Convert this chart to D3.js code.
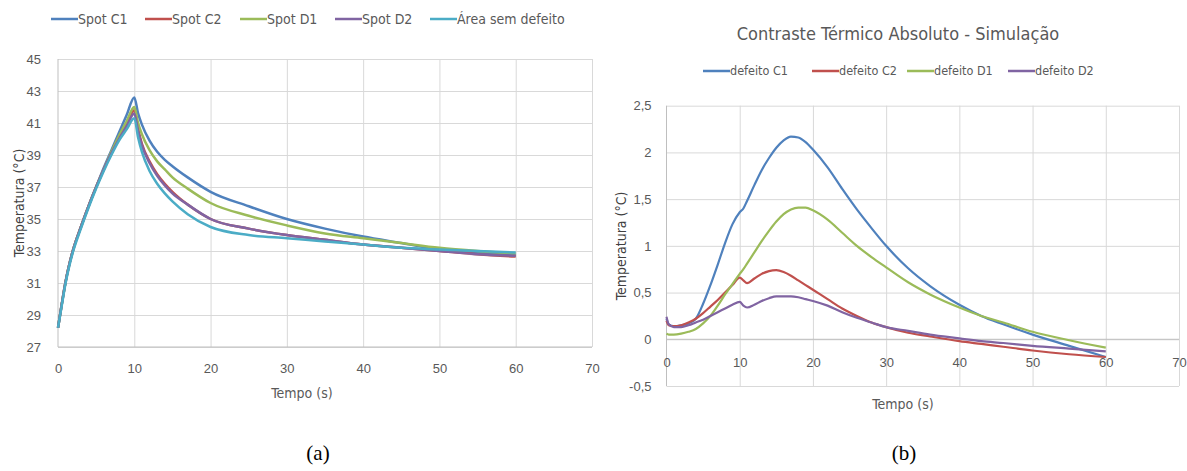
<!DOCTYPE html>
<html>
<head>
<meta charset="utf-8">
<script src="https://cdn.jsdelivr.net/npm/d3@7"></script>
<style>
  body { margin: 0; background: #fff; }
  svg { display: block; font-family: "Liberation Sans Narrow", "DejaVu Sans Condensed", sans-serif; }
  .grid line { stroke: #d9d9d9; stroke-width: 1; }
  .grid path { display: none; }
  .tick text { fill: #595959; font-size: 13px; }
  .axisTitle { fill: #595959; font-size: 14px; }
  .legend text { fill: #595959; font-size: 14px; }
  .legendB text { font-size: 12.5px; }
  .caption { font-family: "Liberation Serif", "DejaVu Serif", serif; font-size: 21px; fill: #000; }
</style>
</head>
<body>
<svg id="chart" width="1187" height="471"></svg>
<script>
// ---------------------------------------------------------------
// (a) temperaturas
const timeA = [0, 0.5, 1, 1.5, 2, 3, 4, 5, 6, 7, 8, 9, 10, 10.5, 11, 12, 13, 14, 15, 17, 20, 25, 30, 35, 40, 45, 50, 55, 60];

const spotC1 = [28.2, 29.7, 31.1, 32.2, 33.1, 34.5, 35.8, 37.0, 38.2, 39.3, 40.4, 41.5, 42.6, 41.6, 40.9, 39.9, 39.2, 38.7, 38.3, 37.6, 36.7, 35.8, 35.0, 34.4, 33.9, 33.5, 33.1, 32.9, 32.75];
const spotC2 = [28.2, 29.7, 31.1, 32.2, 33.1, 34.5, 35.8, 37.0, 38.1, 39.1, 40.1, 40.9, 41.8, 40.6, 39.7, 38.6, 37.8, 37.2, 36.7, 35.9, 35.0, 34.4, 34.0, 33.7, 33.4, 33.2, 33.0, 32.8, 32.65];
const spotD1 = [28.2, 29.7, 31.1, 32.2, 33.1, 34.5, 35.8, 37.0, 38.1, 39.2, 40.2, 41.1, 42.0, 41.0, 40.3, 39.3, 38.6, 38.1, 37.6, 36.9, 36.0, 35.2, 34.6, 34.1, 33.8, 33.5, 33.2, 33.0, 32.85];
const spotD2 = [28.2, 29.7, 31.1, 32.2, 33.1, 34.5, 35.8, 37.0, 38.1, 39.1, 40.0, 40.8, 41.6, 40.5, 39.6, 38.5, 37.7, 37.1, 36.6, 35.9, 35.0, 34.4, 34.0, 33.7, 33.4, 33.2, 33.0, 32.8, 32.7];
const semDefeito = [28.2, 29.6, 31.0, 32.1, 33.0, 34.4, 35.7, 36.9, 38.0, 39.0, 39.9, 40.6, 41.3, 40.1, 39.2, 38.0, 37.2, 36.6, 36.1, 35.3, 34.5, 34.0, 33.8, 33.6, 33.4, 33.2, 33.1, 33.0, 32.9];

const namesA = ["Spot C1", "Spot C2", "Spot D1", "Spot D2", "Área sem defeito"];
const seriesA = [spotC1, spotC2, spotD1, spotD2, semDefeito];
const colorsA = ["#4f81bd", "#c0504d", "#9bbb59", "#8064a2", "#4bacc6"];
const yTicksA = [27, 29, 31, 33, 35, 37, 39, 41, 43, 45];
const xTicks = [0, 10, 20, 30, 40, 50, 60, 70];

// ---------------------------------------------------------------
// (b) contraste termico
const timeB = [0, 0.3, 1, 2, 3, 4, 5, 6, 7, 8, 9, 10, 10.5, 11, 12, 13, 14, 15, 16, 17, 18, 19, 20, 22, 24, 26, 28, 30, 33, 36, 40, 43, 46, 50, 55, 60];

const defeitoC1 = [0.22, 0.16, 0.14, 0.15, 0.17, 0.22, 0.38, 0.58, 0.80, 1.03, 1.23, 1.36, 1.40, 1.48, 1.65, 1.81, 1.94, 2.05, 2.13, 2.17, 2.16, 2.11, 2.03, 1.84, 1.61, 1.39, 1.19, 1.00, 0.76, 0.57, 0.37, 0.25, 0.16, 0.05, -0.07, -0.19];
const defeitoC2 = [0.20, 0.15, 0.14, 0.15, 0.18, 0.22, 0.28, 0.35, 0.42, 0.50, 0.58, 0.66, 0.63, 0.60, 0.65, 0.70, 0.73, 0.74, 0.72, 0.68, 0.63, 0.58, 0.53, 0.43, 0.33, 0.25, 0.18, 0.13, 0.07, 0.03, -0.02, -0.05, -0.08, -0.12, -0.16, -0.19];
const defeitoD1 = [0.06, 0.05, 0.05, 0.06, 0.08, 0.11, 0.17, 0.25, 0.36, 0.48, 0.59, 0.70, 0.75, 0.81, 0.93, 1.05, 1.16, 1.26, 1.34, 1.39, 1.41, 1.41, 1.38, 1.28, 1.14, 1.00, 0.88, 0.77, 0.61, 0.48, 0.34, 0.25, 0.18, 0.08, -0.01, -0.09];
const defeitoD2 = [0.24, 0.16, 0.13, 0.13, 0.15, 0.18, 0.21, 0.25, 0.29, 0.33, 0.37, 0.40, 0.36, 0.34, 0.37, 0.41, 0.44, 0.46, 0.46, 0.46, 0.45, 0.43, 0.41, 0.36, 0.29, 0.23, 0.18, 0.13, 0.09, 0.05, 0.01, -0.02, -0.04, -0.07, -0.10, -0.13];

const namesB = ["defeito C1", "defeito C2", "defeito D1", "defeito D2"];
const seriesB = [defeitoC1, defeitoC2, defeitoD1, defeitoD2];
const colorsB = ["#4f81bd", "#c0504d", "#9bbb59", "#8064a2"];
const yTicksB = [-0.5, 0, 0.5, 1, 1.5, 2, 2.5];

const titleB = "Contraste Térmico Absoluto - Simulação";

// virgula como separador decimal
const ptBR = d3.formatLocale({ decimal: ",", thousands: ".", grouping: [3], currency: ["R$", ""], minus: "-" });
const fmtB = ptBR.format("~g");

const svg = d3.select("#chart");

// ---------------------------------------------------------------
// helpers

const drawLegend = (g, cls, names, colors, positions, y) => {
  const item = g.append("g").attr("class", "legend " + cls)
    .selectAll("g").data(names).enter().append("g")
    .attr("transform", (d, i) => `translate(${positions[i]},${y})`);

  item.append("line")
    .attr("x1", 0).attr("x2", 27)
    .attr("stroke", (d, i) => colors[i])
    .attr("stroke-width", 2.5);

  item.append("text")
    .attr("x", 27).attr("dy", "0.35em")
    .text(d => d);
};

const drawSeries = (g, time, series, colors, x, y, width) => {
  const line = d3.line()
    .x(d => x(d[0]))
    .y(d => y(d[1]))
    .curve(d3.curveMonotoneX);

  g.selectAll("path.serie").data(series).enter().append("path")
    .attr("class", "serie")
    .attr("fill", "none")
    .attr("stroke", (d, i) => colors[i])
    .attr("stroke-width", width)
    .attr("stroke-linejoin", "round")
    .attr("d", d => line(d.map((v, i) => [time[i], v])));
};

/////////////////////////////////////////////////////////
// CHART (a)

{
  const x = d3.scaleLinear().domain([0, 70]).range([58, 592]);
  const y = d3.scaleLinear().domain([27, 45]).range([347, 59]);
  const g = svg.append("g");

  g.append("g").attr("class", "grid")
    .attr("transform", `translate(${x(0)},0)`)
    .call(d3.axisLeft(y).tickValues(yTicksA).tickSize(-(x(70) - x(0))).tickFormat(""));

  g.append("g").attr("class", "grid")
    .attr("transform", `translate(0,${y(27)})`)
    .call(d3.axisBottom(x).tickValues(xTicks.slice(1)).tickSize(-(y(27) - y(45))).tickFormat(""));

  // axis lines
  g.append("line").attr("x1", x(0)).attr("x2", x(70)).attr("y1", y(27)).attr("y2", y(27))
    .attr("stroke", "#bfbfbf");
  g.append("line").attr("x1", x(0)).attr("x2", x(0)).attr("y1", y(27)).attr("y2", y(45))
    .attr("stroke", "#bfbfbf");

  const yAxis = g.append("g")
    .attr("transform", `translate(${x(0) - 14},0)`)
    .call(d3.axisLeft(y).tickValues(yTicksA).tickSize(0));
  yAxis.select(".domain").remove();

  const xAxis = g.append("g")
    .attr("transform", `translate(0,${y(27) + 14})`)
    .call(d3.axisBottom(x).tickValues(xTicks).tickSize(0));
  xAxis.select(".domain").remove();

  drawSeries(g, timeA, seriesA, colorsA, x, y, 2.5);

  g.append("text").attr("class", "axisTitle")
    .attr("x", 302).attr("y", 398)
    .attr("text-anchor", "middle")
    .text("Tempo  (s)");

  g.append("text").attr("class", "axisTitle")
    .attr("transform", `translate(24,${(y(27) + y(45)) / 2}) rotate(-90)`)
    .attr("text-anchor", "middle")
    .style("fill", "#404040")
    .text("Temperatura  (°C)");

  drawLegend(g, "legendA", namesA, colorsA, [51, 145, 240, 335, 430], 19);

  g.append("text").attr("class", "caption")
    .attr("x", 318).attr("y", 460)
    .attr("text-anchor", "middle")
    .text("(a)");
}

/////////////////////////////////////////////////////////
// CHART (b)

{
  const x = d3.scaleLinear().domain([0, 70]).range([666.5, 1179]);
  const y = d3.scaleLinear().domain([-0.5, 2.5]).range([386, 105.7]);
  const g = svg.append("g");

  g.append("g").attr("class", "grid")
    .attr("transform", `translate(${x(0)},0)`)
    .call(d3.axisLeft(y).tickValues(yTicksB).tickSize(-(x(70) - x(0))).tickFormat(""));

  g.append("g").attr("class", "grid")
    .attr("transform", `translate(0,${y(-0.5)})`)
    .call(d3.axisBottom(x).tickValues(xTicks.slice(1)).tickSize(-(y(-0.5) - y(2.5))).tickFormat(""));

  g.append("line").attr("x1", x(0)).attr("x2", x(70)).attr("y1", y(0)).attr("y2", y(0))
    .attr("stroke", "#bfbfbf");
  g.append("line").attr("x1", x(0)).attr("x2", x(0)).attr("y1", y(-0.5)).attr("y2", y(2.5))
    .attr("stroke", "#bfbfbf");

  const yAxis = g.append("g")
    .attr("transform", `translate(${x(0) - 12},0)`)
    .call(d3.axisLeft(y).tickValues(yTicksB).tickSize(0).tickFormat(fmtB));
  yAxis.select(".domain").remove();

  const xAxis = g.append("g")
    .attr("transform", `translate(0,${y(0) + 15})`)
    .call(d3.axisBottom(x).tickValues(xTicks).tickSize(0));
  xAxis.select(".domain").remove();

  drawSeries(g, timeB, seriesB, colorsB, x, y, 2.2);

  g.append("text")
    .attr("x", 898).attr("y", 40)
    .attr("text-anchor", "middle")
    .style("font-size", "18px").style("fill", "#595959")
    .text(titleB);

  g.append("text").attr("class", "axisTitle")
    .attr("x", 903).attr("y", 409)
    .attr("text-anchor", "middle")
    .text("Tempo  (s)");

  g.append("text").attr("class", "axisTitle")
    .attr("transform", `translate(626,${(y(-0.5) + y(2.5)) / 2}) rotate(-90)`)
    .attr("text-anchor", "middle")
    .style("fill", "#404040")
    .text("Temperatura  (°C)");

  drawLegend(g, "legendB", namesB, colorsB, [703, 812, 907, 1008], 71);

  g.append("text").attr("class", "caption")
    .attr("x", 904).attr("y", 460)
    .attr("text-anchor", "middle")
    .text("(b)");
}
</script>
</body>
</html>
